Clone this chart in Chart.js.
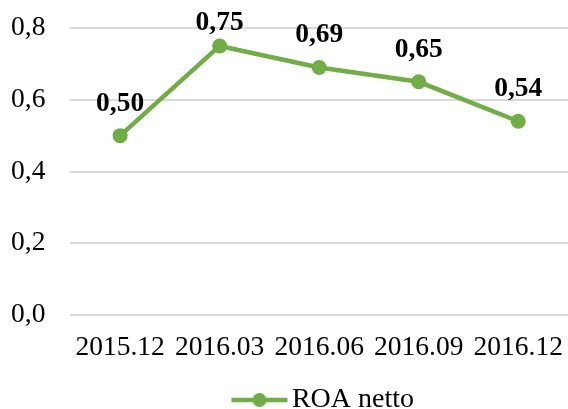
<!DOCTYPE html>
<html>
<head>
<meta charset="utf-8">
<script src="https://cdn.jsdelivr.net/npm/chart.js@4"></script>
<style>
html,body{margin:0;padding:0;background:#fff;}
#wrap{width:568px;height:409px;}
</style>
</head>
<body>
<div id="wrap"><canvas id="c" width="568" height="409"></canvas></div>
<script>
const categories = ['2015.12', '2016.03', '2016.06', '2016.09', '2016.12'];
const roaNetto = [0.50, 0.75, 0.69, 0.65, 0.54];
const seriesName = 'ROA netto';
const yTicks = [0, 0.2, 0.4, 0.6, 0.8];

const GREEN = '#70AD47';
const FONT = '"Liberation Serif", "Times New Roman", serif';
const FS = 27.5;

function fmt(v, d) { return v.toFixed(d).replace('.', ','); }

// legend icon: line with a circle marker (drawn right of box centre)
const icon = document.createElement('canvas');
icon.width = 134; icon.height = 16;
(function(){
  const g = icon.getContext('2d');
  g.strokeStyle = GREEN; g.lineWidth = 4.5; g.lineCap = 'butt';
  g.beginPath(); g.moveTo(77, 8); g.lineTo(133, 8); g.stroke();
  g.fillStyle = GREEN; g.beginPath(); g.arc(105, 8, 7, 0, Math.PI * 2); g.fill();
})();

const valueLabels = {
  id: 'valueLabels',
  afterDatasetsDraw(chart) {
    const ctx = chart.ctx;
    const meta = chart.getDatasetMeta(0);
    ctx.save();
    ctx.font = 'bold ' + FS + 'px ' + FONT;
    ctx.fillStyle = '#000';
    ctx.textAlign = 'center';
    ctx.textBaseline = 'alphabetic';
    meta.data.forEach((pt, i) => {
      const y = Math.max(pt.y - 25, chart.chartArea.top + 2);
      ctx.fillText(fmt(chart.data.datasets[0].data[i], 2), pt.x, y);
    });
    ctx.restore();
  }
};

new Chart(document.getElementById('c'), {
  type: 'line',
  data: {
    labels: categories,
    datasets: [{
      label: seriesName,
      data: roaNetto,
      borderColor: GREEN,
      backgroundColor: GREEN,
      borderWidth: 4.5,
      pointRadius: 7.5,
      pointHoverRadius: 7.5,
      pointBackgroundColor: GREEN,
      pointBorderWidth: 0,
      pointStyle: 'circle',
      tension: 0,
      clip: false
    }]
  },
  options: {
    responsive: false,
    animation: false,
    layout: { autoPadding: false, padding: { left: 11, right: 0, top: 28, bottom: -15 } },
    scales: {
      x: {
        offset: true,
        afterFit(scale) { scale.paddingLeft = 0; scale.paddingRight = 0; },
        grid: { display: true, color: 'rgba(0,0,0,0)', drawOnChartArea: false, drawTicks: true, tickLength: 16 },
        border: { display: false },
        ticks: { color: '#000', font: { family: FONT, size: FS }, padding: 0, maxRotation: 0, autoSkip: false }
      },
      y: {
        min: 0, max: 0.8,
        afterBuildTicks(scale) { scale.ticks = yTicks.map(v => ({ value: v })); },
        grid: { color: '#d9d9d9', lineWidth: 2, drawTicks: true, tickLength: 25, tickColor: 'rgba(0,0,0,0)' },
        border: { display: false },
        ticks: { color: '#000', font: { family: FONT, size: FS }, padding: 0, callback: v => fmt(v, 1) }
      }
    },
    plugins: {
      tooltip: { enabled: false },
      legend: {
        position: 'bottom',
        labels: {
          color: '#000',
          font: { family: FONT, size: 28 },
          usePointStyle: true,
          pointStyleWidth: 113,
          padding: 22,
          generateLabels(chart) {
            return [{ text: seriesName, pointStyle: icon, fillStyle: GREEN, strokeStyle: GREEN, lineWidth: 0, hidden: false, datasetIndex: 0, fontColor: '#000' }];
          }
        }
      }
    }
  },
  plugins: [valueLabels]
});
</script>
</body>
</html>
